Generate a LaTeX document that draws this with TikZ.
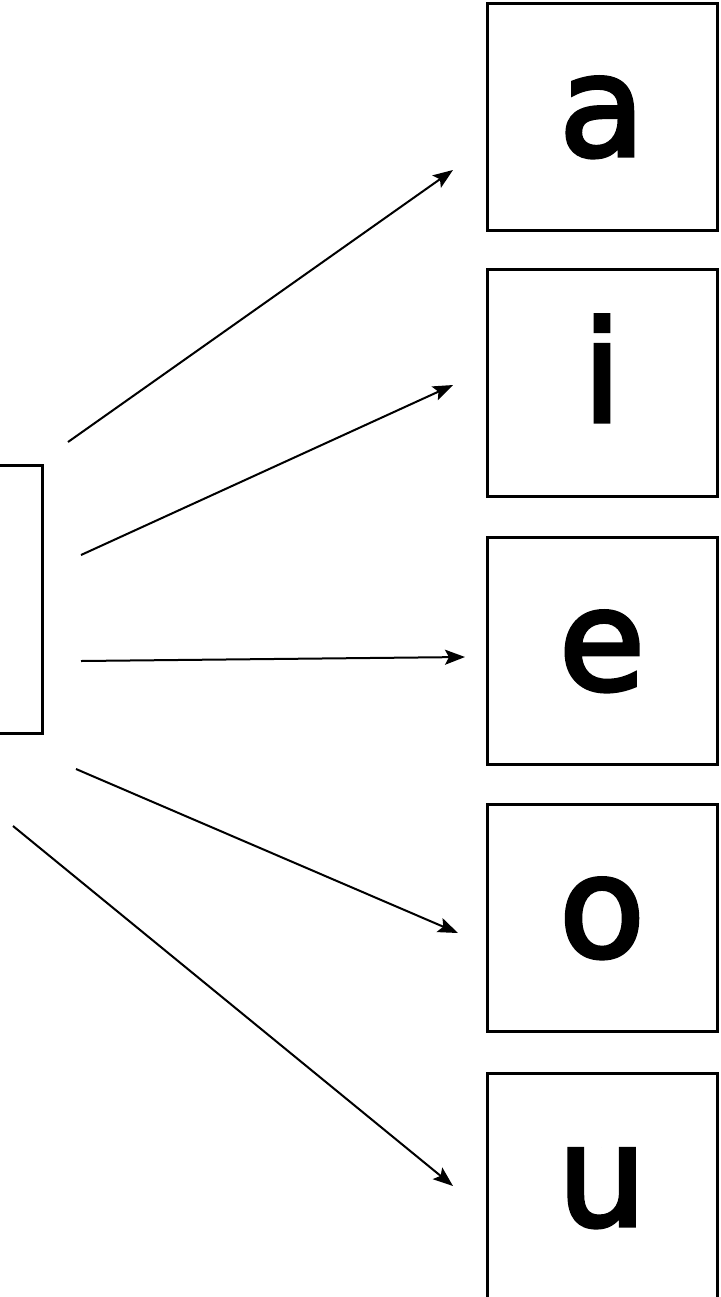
\documentclass[tikz,border=0pt]{standalone}
\usepackage{fontspec}
\setmainfont{DejaVu Sans}
\newfontfamily\vowelfont[FakeBold=3]{DejaVu Sans}
\usetikzlibrary{arrows.meta}
\tikzset{
  vowel/.style={draw, line width=1.5pt, minimum width=115pt, minimum height=113.5pt,
    inner sep=0pt, text height=38.5pt, text depth=0pt, font=\vowelfont\fontsize{70}{80}\selectfont},
  link/.style={line width=1pt, -{Stealth[length=10pt,width=7.5pt,inset=2pt]}}
}
\begin{document}
\begin{tikzpicture}[x=0.5pt,y=-0.5pt]
  %Frame
  \useasboundingbox (0,0) rectangle (720,1297);
  %Source box (cut by the left edge)
  \node[draw, line width=1.5pt, minimum width=100pt, minimum height=134pt, inner sep=0pt] (src) at (-58,599) {};
  %Vowel boxes
  \node[vowel] (va) at (602,117) {a};
  \node[vowel] (vi) at (602,383) {i};
  \node[vowel] (ve) at (602,651) {e};
  \node[vowel] (vo) at (602,918) {o};
  \node[vowel] (vu) at (602,1187) {u};
  %Free ends of the arrows
  \coordinate (sa) at (68,442);   \coordinate (ta) at (453,170);
  \coordinate (si) at (81,555);   \coordinate (ti) at (453,385);
  \coordinate (se) at (81,661);   \coordinate (te) at (465,657);
  \coordinate (so) at (76,769);   \coordinate (to) at (458,933);
  \coordinate (su) at (13,826);   \coordinate (tu) at (453,1186);
  %Arrows
  \draw[link] (sa) -- (ta);
  \draw[link] (si) -- (ti);
  \draw[link] (se) -- (te);
  \draw[link] (so) -- (to);
  \draw[link] (su) -- (tu);
\end{tikzpicture}
\end{document}
